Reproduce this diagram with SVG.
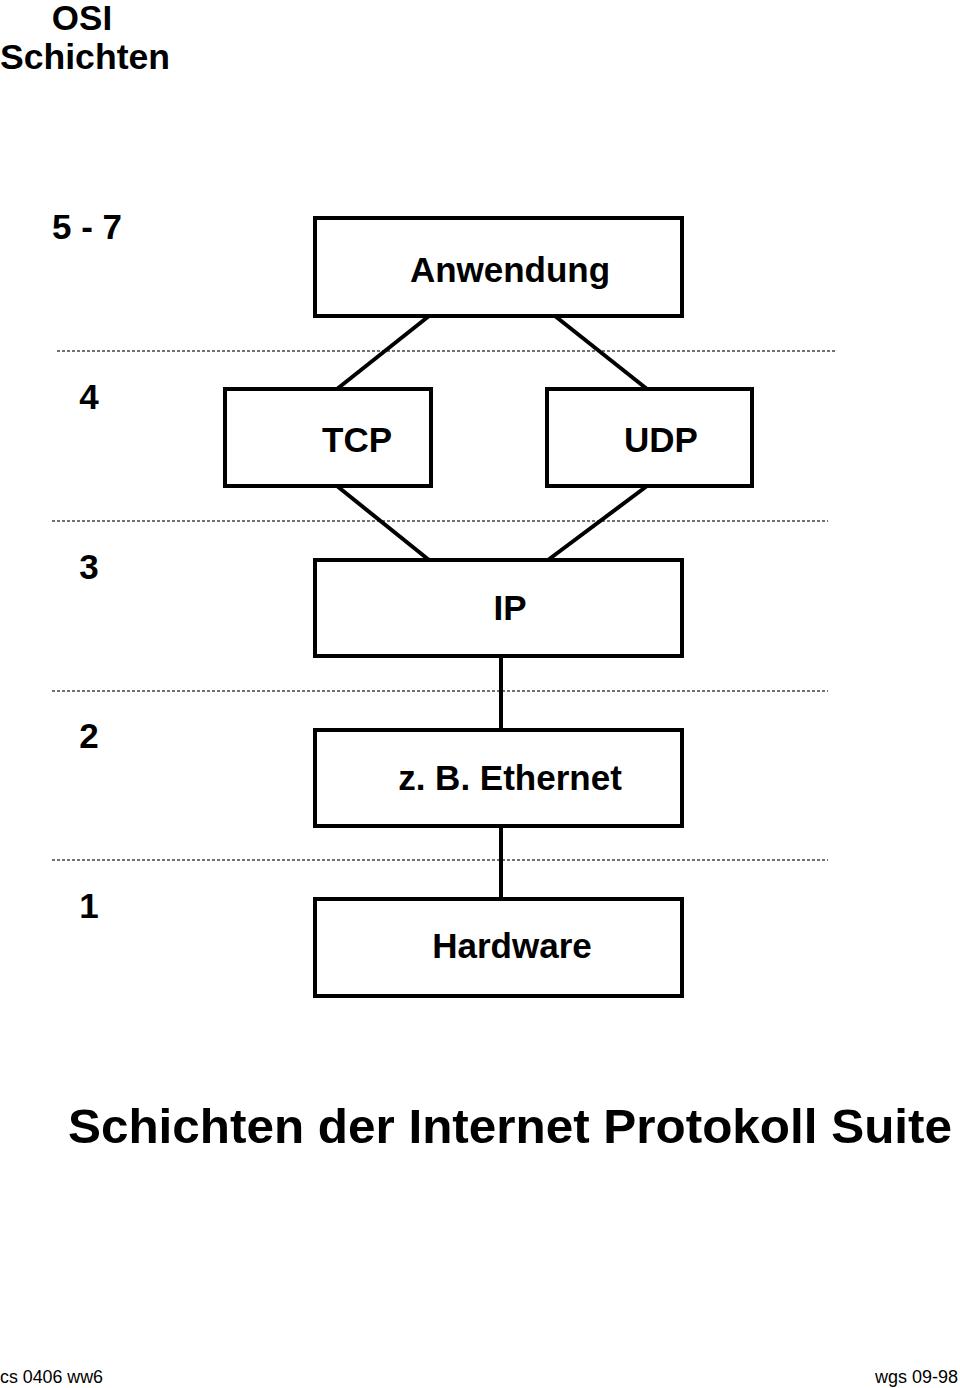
<svg xmlns="http://www.w3.org/2000/svg" width="960" height="1388" viewBox="0 0 960 1388">
<style>
.box{fill:#fff;stroke:#000;stroke-width:4}
.lbl{font-family:"Liberation Sans",Arial,sans-serif;font-weight:bold;font-size:35px;text-anchor:middle;fill:#000}
.num{font-family:"Liberation Sans",Arial,sans-serif;font-weight:bold;font-size:35px;text-anchor:middle;fill:#000}
.sep{stroke:#444;stroke-width:1.3;stroke-dasharray:3 2;fill:none}
.conn{stroke:#000;stroke-width:4;fill:none}
.foot{font-family:"Liberation Sans",Arial,sans-serif;font-size:18px;fill:#000}
</style>
<rect width="960" height="1388" fill="#fff"/>
<text x="82" y="30" class="lbl">OSI</text>
<text x="0" y="69" font-family="Liberation Sans, Arial, sans-serif" font-weight="bold" font-size="35" fill="#000" textLength="170" lengthAdjust="spacingAndGlyphs">Schichten</text>
<g id="separators">
<line class="sep" x1="57" y1="351" x2="835" y2="351"/>
<line class="sep" x1="52" y1="521" x2="828" y2="521"/>
<line class="sep" x1="52" y1="691" x2="828" y2="691"/>
<line class="sep" x1="52" y1="860" x2="828" y2="860"/>
</g>
<g id="layer-numbers">
<text x="87" y="239" class="num">5 - 7</text>
<text x="89" y="409" class="num">4</text>
<text x="89" y="579" class="num">3</text>
<text x="89" y="748" class="num">2</text>
<text x="89" y="918" class="num">1</text>
</g>
<g id="connectors">
<line class="conn" x1="429" y1="316" x2="337" y2="389"/>
<line class="conn" x1="555" y1="316" x2="647" y2="389"/>
<line class="conn" x1="337" y1="486" x2="429" y2="560"/>
<line class="conn" x1="647" y1="486" x2="548" y2="560"/>
<line class="conn" x1="501" y1="656" x2="501" y2="730"/>
<line class="conn" x1="501" y1="826" x2="501" y2="899"/>
</g>
<g id="anwendung">
<rect class="box" x="315" y="218" width="367" height="98"/>
<text x="510" y="282" class="lbl">Anwendung</text>
</g>
<g id="tcp">
<rect class="box" x="225" y="389" width="206" height="97"/>
<text x="357" y="452" class="lbl">TCP</text>
</g>
<g id="udp">
<rect class="box" x="547" y="389" width="205" height="97"/>
<text x="661" y="452" class="lbl">UDP</text>
</g>
<g id="ip">
<rect class="box" x="315" y="560" width="367" height="96"/>
<text x="510" y="620" class="lbl">IP</text>
</g>
<g id="ethernet">
<rect class="box" x="315" y="730" width="367" height="96"/>
<text x="510" y="790" class="lbl">z. B. Ethernet</text>
</g>
<g id="hardware">
<rect class="box" x="315" y="899" width="367" height="97"/>
<text x="512" y="958" class="lbl">Hardware</text>
</g>
<text x="68" y="1143" font-family="Liberation Sans, Arial, sans-serif" font-weight="bold" font-size="49" fill="#000" textLength="884" lengthAdjust="spacingAndGlyphs">Schichten der Internet Protokoll Suite</text>
<text x="0" y="1383" class="foot" textLength="103" lengthAdjust="spacingAndGlyphs">cs 0406 ww6</text>
<text x="958" y="1383" class="foot" text-anchor="end">wgs 09-98</text>
</svg>
